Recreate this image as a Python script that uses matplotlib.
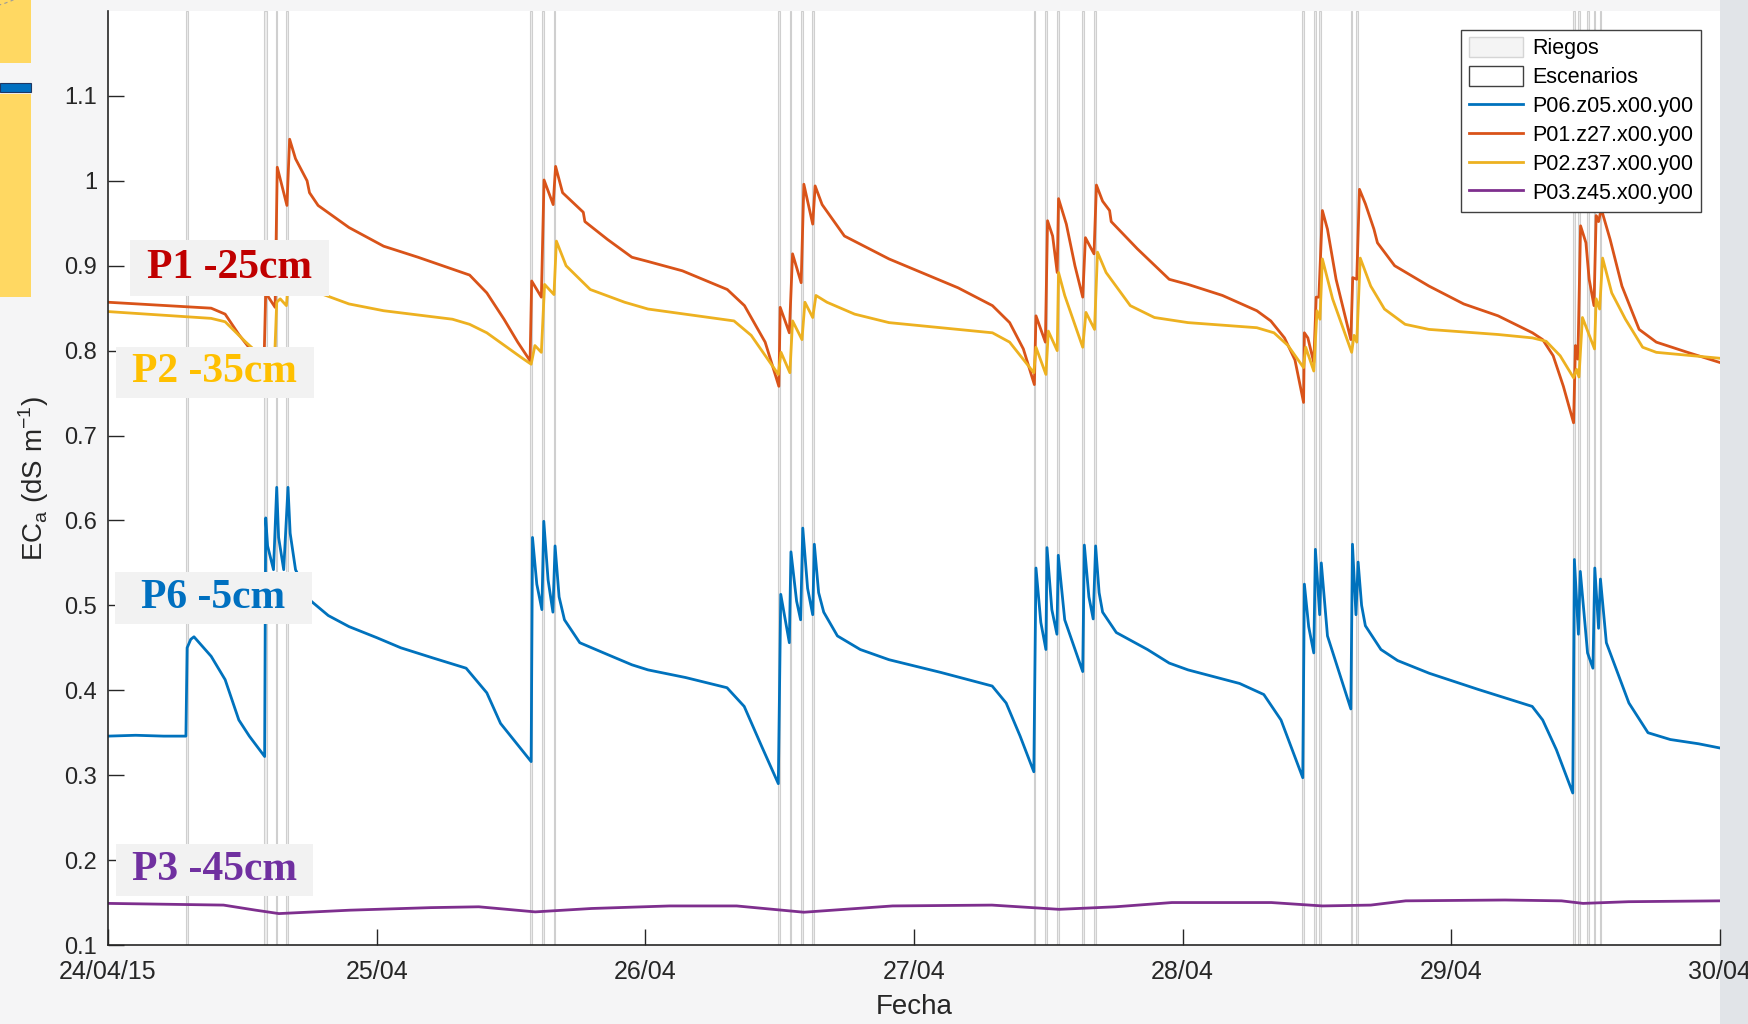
import matplotlib
matplotlib.use("Agg")
import matplotlib.pyplot as plt
from matplotlib.patches import Rectangle, Patch, Circle
from matplotlib.lines import Line2D

plt.rcParams['font.family'] = ['Liberation Sans', 'DejaVu Sans']

# time axis in days since 24/04/15 00:00
day_ticks = [0, 1, 2, 3, 4, 5, 6]
day_labels = ['24/04/15', '25/04', '26/04', '27/04', '28/04', '29/04', '30/04']
y_ticks = [0.1, 0.2, 0.3, 0.4, 0.5, 0.6, 0.7, 0.8, 0.9, 1.0, 1.1]
y_labels = ['0.1', '0.2', '0.3', '0.4', '0.5', '0.6', '0.7', '0.8', '0.9', '1', '1.1']

# irrigation events (start day, duration in days)
riego_t = [0.292, 0.581, 0.624, 0.664, 1.571, 1.616, 1.659,
           2.494, 2.537, 2.580, 2.622, 3.446, 3.488, 3.532, 3.627, 3.670,
           4.446, 4.489, 4.509, 4.626, 4.646, 5.453, 5.472, 5.506, 5.530, 5.552]
riego_d = [0.004, 0.010, 0.006, 0.006, 0.006, 0.006, 0.006,
           0.006, 0.006, 0.008, 0.006, 0.006, 0.006, 0.006, 0.006, 0.006,
           0.006, 0.006, 0.006, 0.006, 0.006, 0.006, 0.006, 0.006, 0.006, 0.006]

# P06 (-5 cm)
p06_t = [0, 0.103, 0.207, 0.290, 0.2945, 0.308, 0.320, 0.384, 0.436, 0.487, 0.526, 0.583,
         0.587, 0.594, 0.616, 0.628, 0.635, 0.654, 0.670, 0.678, 0.698, 0.756, 0.82,
         0.897, 1.000, 1.090, 1.210, 1.333, 1.410, 1.461, 1.575,
         1.580, 1.596, 1.615, 1.622, 1.638, 1.656, 1.664, 1.679, 1.699, 1.756, 1.860, 1.95,
         2.01, 2.15, 2.304, 2.368, 2.433, 2.495,
         2.504, 2.536, 2.542, 2.563, 2.578, 2.586, 2.604, 2.623, 2.629, 2.645, 2.664, 2.715,
         2.80, 2.907, 3.10, 3.291, 3.343, 3.395, 3.446,
         3.454, 3.472, 3.491, 3.495, 3.513, 3.532, 3.537, 3.561, 3.628,
         3.634, 3.651, 3.667, 3.676, 3.689, 3.702, 3.753, 3.869, 3.95,
         4.02, 4.212, 4.302, 4.366, 4.447,
         4.453, 4.469, 4.488, 4.494, 4.510, 4.516, 4.539, 4.626,
         4.632, 4.645, 4.653, 4.666, 4.680, 4.738, 4.80, 4.918, 5.10, 5.301, 5.340, 5.391, 5.452,
         5.458, 5.473, 5.480, 5.507, 5.527, 5.534, 5.548, 5.555, 5.577,
         5.661, 5.732, 5.815, 5.92, 6.0]
p06_v = [0.346, 0.347, 0.346, 0.346, 0.45, 0.460, 0.463, 0.440, 0.4125, 0.365, 0.346, 0.322,
         0.603, 0.570, 0.542, 0.639, 0.580, 0.542, 0.639, 0.585, 0.542, 0.505, 0.488,
         0.475, 0.462, 0.450, 0.438, 0.426, 0.397, 0.361, 0.316,
         0.580, 0.525, 0.495, 0.599, 0.530, 0.492, 0.570, 0.510, 0.483, 0.456, 0.442, 0.430,
         0.424, 0.415, 0.403, 0.381, 0.334, 0.290,
         0.513, 0.456, 0.563, 0.505, 0.483, 0.591, 0.520, 0.489, 0.572, 0.515, 0.492, 0.464,
         0.448, 0.436, 0.421, 0.405, 0.385, 0.346, 0.304,
         0.544, 0.480, 0.448, 0.568, 0.495, 0.466, 0.559, 0.483, 0.422,
         0.571, 0.510, 0.484, 0.570, 0.515, 0.492, 0.468, 0.448, 0.432,
         0.424, 0.408, 0.395, 0.365, 0.297,
         0.525, 0.475, 0.444, 0.566, 0.489, 0.550, 0.464, 0.378,
         0.572, 0.489, 0.551, 0.500, 0.476, 0.448, 0.435, 0.420, 0.401, 0.381, 0.365, 0.330, 0.279,
         0.554, 0.466, 0.540, 0.444, 0.426, 0.544, 0.473, 0.531, 0.456,
         0.385, 0.350, 0.342, 0.337, 0.332]

# P01 (-25 cm)
p01_t = [0, 0.384, 0.436, 0.487, 0.519, 0.548, 0.581,
         0.587, 0.622, 0.630, 0.666, 0.676, 0.698, 0.741, 0.750, 0.782,
         0.897, 1.026, 1.154, 1.282, 1.346, 1.410, 1.474, 1.525, 1.571,
         1.577, 1.613, 1.623, 1.657, 1.666, 1.692, 1.769, 1.775, 1.859, 1.95,
         2.01, 2.138, 2.305, 2.369, 2.446, 2.497,
         2.502, 2.536, 2.548, 2.580, 2.590, 2.623, 2.632, 2.658, 2.741,
         2.907, 3.164, 3.292, 3.356, 3.407, 3.448,
         3.454, 3.489, 3.497, 3.516, 3.533, 3.538, 3.567, 3.599, 3.628,
         3.638, 3.670, 3.679, 3.702, 3.728, 3.734, 3.831, 3.95,
         4.02, 4.148, 4.276, 4.328, 4.379, 4.418, 4.450,
         4.453, 4.466, 4.488, 4.497, 4.507, 4.520, 4.539, 4.571, 4.626,
         4.633, 4.648, 4.658, 4.680, 4.712, 4.725, 4.789,
         4.917, 5.046, 5.174, 5.302, 5.340, 5.379, 5.417, 5.455,
         5.462, 5.471, 5.481, 5.501, 5.513, 5.531, 5.539, 5.548, 5.558, 5.591,
         5.635, 5.699, 5.763, 5.879, 6.0]
p01_v = [0.857, 0.850, 0.843, 0.819, 0.806, 0.795, 0.790,
         0.868, 0.851, 1.016, 0.971, 1.049, 1.026, 1.000, 0.986, 0.971,
         0.945, 0.923, 0.910, 0.896, 0.889, 0.868, 0.837, 0.810, 0.788,
         0.882, 0.863, 1.001, 0.972, 1.017, 0.986, 0.963, 0.952, 0.931, 0.910,
         0.905, 0.894, 0.872, 0.853, 0.810, 0.758,
         0.851, 0.821, 0.914, 0.880, 0.996, 0.949, 0.994, 0.972, 0.935,
         0.908, 0.874, 0.853, 0.833, 0.802, 0.760,
         0.841, 0.810, 0.953, 0.935, 0.892, 0.979, 0.949, 0.900, 0.863,
         0.933, 0.914, 0.995, 0.976, 0.965, 0.952, 0.920, 0.884,
         0.878, 0.865, 0.847, 0.835, 0.815, 0.789, 0.739,
         0.821, 0.815, 0.786, 0.863, 0.863, 0.965, 0.943, 0.884, 0.813,
         0.886, 0.884, 0.990, 0.973, 0.943, 0.927, 0.900,
         0.876, 0.855, 0.841, 0.821, 0.813, 0.794, 0.758, 0.715,
         0.806, 0.790, 0.947, 0.927, 0.884, 0.853, 0.959, 0.952, 0.967, 0.931,
         0.876, 0.825, 0.810, 0.798, 0.786]

# P02 (-35 cm)
p02_t = [0, 0.384, 0.436, 0.513, 0.548, 0.581, 0.587, 0.620,
         0.628, 0.641, 0.664, 0.677, 0.723, 0.785,
         0.897, 1.026, 1.282, 1.346, 1.410, 1.538, 1.575,
         1.589, 1.613, 1.625, 1.660, 1.669, 1.705, 1.795, 1.923,
         2.01, 2.330, 2.394, 2.495,
         2.505, 2.538, 2.548, 2.583, 2.594, 2.623, 2.635, 2.676, 2.779,
         2.907, 3.164, 3.292, 3.356, 3.446,
         3.454, 3.491, 3.500, 3.533, 3.538, 3.561, 3.628,
         3.640, 3.672, 3.683, 3.715, 3.805, 3.895,
         4.02, 4.276, 4.340, 4.392, 4.450,
         4.458, 4.488, 4.500, 4.511, 4.520, 4.558, 4.629,
         4.638, 4.648, 4.661, 4.700, 4.751, 4.828,
         4.917, 5.174, 5.302, 5.353, 5.405, 5.455,
         5.466, 5.475, 5.488, 5.533, 5.539, 5.552, 5.563, 5.597,
         5.648, 5.712, 5.763, 6.0]
p02_v = [0.846, 0.838, 0.834, 0.810, 0.800, 0.790, 0.800, 0.790,
         0.857, 0.861, 0.853, 0.905, 0.885, 0.868,
         0.855, 0.847, 0.837, 0.831, 0.821, 0.792, 0.784,
         0.806, 0.798, 0.878, 0.866, 0.929, 0.900, 0.872, 0.857,
         0.849, 0.835, 0.818, 0.772,
         0.798, 0.774, 0.835, 0.813, 0.857, 0.839, 0.865, 0.857, 0.843,
         0.833, 0.825, 0.821, 0.810, 0.774,
         0.804, 0.772, 0.823, 0.800, 0.892, 0.865, 0.804,
         0.845, 0.825, 0.916, 0.892, 0.853, 0.839,
         0.833, 0.827, 0.821, 0.806, 0.780,
         0.804, 0.776, 0.847, 0.837, 0.908, 0.861, 0.798,
         0.818, 0.810, 0.909, 0.876, 0.849, 0.831,
         0.825, 0.819, 0.815, 0.811, 0.794, 0.768,
         0.778, 0.769, 0.839, 0.802, 0.861, 0.849, 0.909, 0.868,
         0.837, 0.804, 0.798, 0.791]

# P03 (-45 cm)
p03_t = [0, 0.43, 0.55, 0.636, 0.9, 1.2, 1.38, 1.59, 1.8, 2.09, 2.34, 2.59, 2.92,
         3.29, 3.54, 3.75, 3.96, 4.33, 4.52, 4.70, 4.83, 5.2, 5.41, 5.49, 5.66, 6.0]
p03_v = [0.149, 0.147, 0.141, 0.137, 0.141, 0.144, 0.145, 0.139, 0.143, 0.146, 0.146,
         0.1386, 0.146, 0.147, 0.142, 0.145, 0.150, 0.150, 0.146, 0.147, 0.152, 0.153,
         0.152, 0.149, 0.151, 0.152]

W, H = 1749, 1024
fig = plt.figure(figsize=(W / 100, H / 100), dpi=100, facecolor='#F5F5F6')


def fx(px):
    return px / W


def fy(py):
    return 1 - py / H


# slide decoration
fig.patches.append(Rectangle((fx(1720), 0), fx(29), 1, transform=fig.transFigure,
                             facecolor='#E1E4E8', edgecolor='none', zorder=-1))
top_yellow = Rectangle((0, fy(63)), fx(31), 63 / H, transform=fig.transFigure,
                       facecolor='#FFD862', edgecolor='none', zorder=-1)
fig.patches.append(top_yellow)
fig.patches.append(Rectangle((0, fy(92)), fx(31), 9 / H, transform=fig.transFigure,
                             facecolor='#0070C0', edgecolor='#1F3864', lw=0.8, zorder=-1))
fig.patches.append(Rectangle((0, fy(297)), fx(31), 203 / H, transform=fig.transFigure,
                             facecolor='#FFD862', edgecolor='none', zorder=-1))
arc = Circle((fx(-35), fy(-36)), fx(78), transform=fig.transFigure, fill=False,
             edgecolor='#9A9A9A', lw=0.8, linestyle=(0, (3, 3)), zorder=-1)
fig.patches.append(arc)
arc.set_clip_path(top_yellow)

ax = fig.add_axes([fx(108), fy(945), fx(1612), (945 - 11) / H])
ax.set_facecolor('white')

for t0, d in zip(riego_t, riego_d):
    ax.axvspan(t0, t0 + d, facecolor='#EDEDED', edgecolor='#CFCFCF', lw=0.8, zorder=0)

lw = 2.0
ax.plot(p06_t, p06_v, color='#0072BD', lw=lw)
ax.plot(p01_t, p01_v, color='#D95319', lw=lw)
ax.plot(p02_t, p02_v, color='#EDB120', lw=lw)
ax.plot(p03_t, p03_v, color='#7E2F8E', lw=lw)

ax.set_xlim(0, 6)
ax.set_ylim(0.1, 1.2)
ax.set_xticks(day_ticks)
ax.set_xticklabels(day_labels)
ax.set_yticks(y_ticks)
ax.set_yticklabels(y_labels)
ax.spines['top'].set_visible(False)
ax.spines['right'].set_visible(False)
for s in ('left', 'bottom'):
    ax.spines[s].set_color('#262626')
    ax.spines[s].set_linewidth(1.2)
ax.tick_params(direction='in', length=11.5, width=1, colors='#262626')
ax.tick_params(axis='x', labelsize=18, pad=11)
ax.tick_params(axis='y', labelsize=17, pad=8)

ax.set_xlabel('Fecha', fontsize=20, color='#262626', va='center')
ax.xaxis.set_label_coords(0.5, -(1007 - 945) / 934)
ax.set_ylabel(r'EC$_\mathregular{a}$ (dS m$^\mathregular{-1}$)', fontsize=20,
              color='#262626', va='center')
ax.yaxis.set_label_coords(-(108 - 34) / 1612, 0.5)

handles = [
    Patch(facecolor='#F4F4F4', edgecolor='#D5D5D5', label='Riegos'),
    Patch(facecolor='white', edgecolor='#404040', label='Escenarios'),
    Line2D([], [], color='#0072BD', lw=lw, label='P06.z05.x00.y00'),
    Line2D([], [], color='#D95319', lw=lw, label='P01.z27.x00.y00'),
    Line2D([], [], color='#EDB120', lw=lw, label='P02.z37.x00.y00'),
    Line2D([], [], color='#7E2F8E', lw=lw, label='P03.z45.x00.y00'),
]
leg = ax.legend(handles=handles, loc='upper right', fontsize=15.5, fancybox=False,
                edgecolor='#404040', framealpha=1, handlelength=2.5, handleheight=1.0,
                labelspacing=0.32, borderaxespad=0.88, handletextpad=0.45, borderpad=0.35)
leg.get_frame().set_linewidth(1.0)

# depth labels
depth_boxes = [
    ('P1 -25cm', '#C00000', 130, 240, 329, 296),
    ('P2 -35cm', '#FFC000', 116, 347, 314, 398),
    ('P6 -5cm', '#0070C0', 115, 572, 312, 624),
    ('P3 -45cm', '#7030A0', 116, 844, 313, 896),
]
for txt, col, x0, y0, x1, y1 in depth_boxes:
    fig.patches.append(Rectangle((fx(x0), fy(y1)), fx(x1 - x0), (y1 - y0) / H,
                                 transform=fig.transFigure, facecolor='#F2F2F2',
                                 edgecolor='none', zorder=2))
    fig.text(fx((x0 + x1) / 2), fy((y0 + y1) / 2), txt, color=col, fontsize=30,
             fontweight='bold', family=['Liberation Serif', 'DejaVu Serif'],
             ha='center', va='center', zorder=3)

fig.savefig('out.png', dpi=100, facecolor=fig.get_facecolor())
